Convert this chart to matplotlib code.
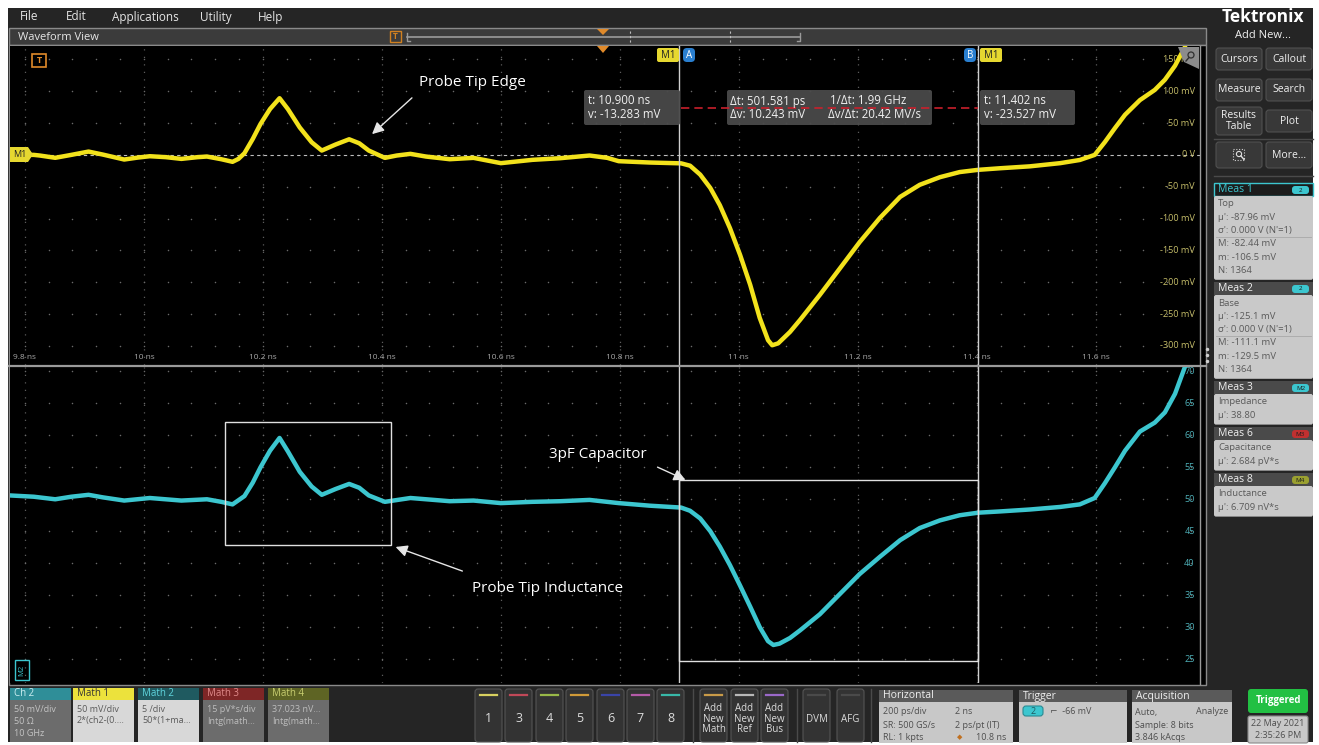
import numpy as np
import matplotlib.pyplot as plt
from matplotlib.patches import Rectangle, FancyBboxPatch, Polygon, Circle

W, H = 1319, 745
plt.rcParams['font.family'] = ['Open Sans', 'DejaVu Sans']

# Math 1 trace (ns, mV)
t_m1 = [9.775, 9.815, 9.825, 9.851, 9.878, 9.907, 9.931, 9.967, 9.990, 10.010,
        10.037, 10.063, 10.090, 10.106, 10.130, 10.149, 10.159, 10.169, 10.183, 10.196,
        10.212, 10.228, 10.242, 10.262, 10.282, 10.299, 10.322, 10.345, 10.362, 10.378,
        10.405, 10.425, 10.448, 10.474, 10.514, 10.554, 10.600, 10.653, 10.700, 10.749,
        10.779, 10.798, 10.850, 10.903, 10.918, 10.935, 10.952, 10.968, 10.985, 11.002,
        11.019, 11.035, 11.049, 11.056, 11.066, 11.086, 11.103, 11.136, 11.170, 11.203,
        11.237, 11.271, 11.304, 11.338, 11.371, 11.402, 11.439, 11.489, 11.540, 11.573,
        11.598, 11.615, 11.632, 11.649, 11.674, 11.699, 11.716, 11.733, 11.750]
v_m1 = [0.0, 0.0, -1.0, -4.6, 0.0, 5.2, 0.5, -7.3, -4.2, -2.1,
        -3.6, -6.3, -3.6, -2.6, -6.8, -10.9, -6.3, 2.6, 25.0, 48.5,
        72.0, 89.0, 72.0, 43.0, 19.8, 6.8, 16.2, 24.5, 18.2, 6.8,
        -4.7, -1.0, 1.6, -2.6, -6.8, -4.7, -13.0, -7.8, -5.2, -1.0,
        -4.7, -9.9, -12.0, -13.3, -17.0, -31.0, -52.0, -79.0, -115.0, -157.0,
        -204.0, -256.0, -291.0, -299.0, -296.0, -278.0, -259.0, -220.0, -178.0, -137.0,
        -99.0, -66.0, -47.0, -35.0, -27.0, -23.5, -21.0, -18.0, -13.0, -8.0,
        0.0, 20.0, 42.0, 63.0, 86.0, 102.0, 118.0, 140.0, 170.0]

# Math 2 trace (impedance, ohm)
t_m2 = [9.775, 9.815, 9.851, 9.878, 9.907, 9.931, 9.967, 10.010, 10.063, 10.106,
        10.130, 10.149, 10.169, 10.183, 10.196, 10.212, 10.228, 10.242, 10.262, 10.282,
        10.299, 10.322, 10.345, 10.362, 10.378, 10.405, 10.448, 10.514, 10.554, 10.600,
        10.653, 10.700, 10.749, 10.798, 10.850, 10.903, 10.918, 10.935, 10.952, 10.968,
        10.985, 11.002, 11.019, 11.035, 11.049, 11.058, 11.068, 11.086, 11.103, 11.136,
        11.170, 11.203, 11.237, 11.271, 11.304, 11.338, 11.371, 11.402, 11.439, 11.489,
        11.540, 11.573, 11.598, 11.615, 11.632, 11.649, 11.674, 11.699, 11.716, 11.733,
        11.750]
v_m2 = [50.6, 50.4, 50.0, 50.4, 50.7, 50.3, 49.8, 50.2, 49.8, 50.0,
        49.6, 49.2, 50.5, 52.6, 55.0, 57.6, 59.6, 57.5, 54.3, 52.0,
        50.7, 51.6, 52.4, 51.8, 50.6, 49.6, 50.2, 49.7, 49.8, 49.4,
        49.6, 49.7, 49.9, 49.4, 49.0, 48.7, 48.2, 47.0, 45.0, 42.6,
        39.7, 36.5, 33.2, 30.0, 27.8, 27.2, 27.4, 28.3, 29.5, 32.0,
        35.2, 38.3, 41.0, 43.6, 45.5, 46.7, 47.5, 47.9, 48.1, 48.4,
        48.8, 49.2, 50.2, 52.5, 55.0, 57.6, 60.6, 62.0, 63.6, 66.5,
        70.8]

cursor_a, cursor_b = 10.900, 11.402
time_ticks = [9.8, 10.0, 10.2, 10.4, 10.6, 10.8, 11.0, 11.2, 11.4, 11.6]
time_labels = ['9.8 ns', '10 ns', '10.2 ns', '10.4 ns', '10.6 ns', '10.8 ns',
               '11 ns', '11.2 ns', '11.4 ns', '11.6 ns']
m1_ticks = [150, 100, 50, 0, -50, -100, -150, -200, -250, -300]
m1_labels = ['150 mV', '100 mV', '50 mV', '0 V', '-50 mV', '-100 mV', '-150 mV',
             '-200 mV', '-250 mV', '-300 mV']
m2_ticks = [70, 65, 60, 55, 50, 45, 40, 35, 30, 25]

YEL = '#f2e21c'
CYA = '#3cc6cf'

fig = plt.figure(figsize=(W / 100, H / 100), dpi=100)
fig.patch.set_facecolor('white')


def px_axes(zorder, label):
    ax = fig.add_axes([0, 0, 1, 1], zorder=zorder, label=label)
    ax.set_xlim(0, W)
    ax.set_ylim(H, 0)
    ax.axis('off')
    ax.patch.set_alpha(0)
    return ax


def frac(x0, y0, x1, y1):
    return [x0 / W, 1 - y1 / H, (x1 - x0) / W, (y1 - y0) / H]


def box(ax, x, y, w, h, fc, ec='none', lw=0.8, r=0, **kw):
    if r:
        p = FancyBboxPatch((x, y), w, h, boxstyle=f'round,pad=0,rounding_size={r}',
                           fc=fc, ec=ec, lw=lw, **kw)
    else:
        p = Rectangle((x, y), w, h, fc=fc, ec=ec, lw=lw, **kw)
    ax.add_patch(p)


def txt(ax, x, y, s, size=7, color='white', ha='left', va='center', **kw):
    ax.text(x, y, s, fontsize=size, color=color, ha=ha, va=va, **kw)


bg = px_axes(0, 'bg')
ax_top = fig.add_axes(frac(10, 46, 1200, 365), zorder=1)
ax_bot = fig.add_axes(frac(10, 367, 1200, 683), zorder=1)
ov = px_axes(2, 'ov')

# ---- frame, menu and title bar ----
box(bg, 8, 8, 1305, 734, '#252525')
for x, s in [(20, 'File'), (66, 'Edit'), (112, 'Applications'), (200, 'Utility'), (258, 'Help')]:
    txt(bg, x, 17, s, 8.5, '#e6e6e6')
box(bg, 9, 28, 1197, 17, '#3b3b3b', ec='#8a8a8a', lw=1)
txt(bg, 18, 37, 'Waveform View', 8, '#e6e6e6')
box(bg, 9, 45, 1197, 640, 'black', ec='#8a8a8a', lw=1)
box(bg, 390, 31, 11, 11, 'none', ec='#d08020', lw=1)
txt(bg, 395.5, 36.5, 'T', 6, '#d08020', ha='center', weight='bold')
bg.plot([407, 800], [37, 37], color='#9a9a9a', lw=1.2)
bg.plot([407, 407, 410], [33, 41, 41], color='#9a9a9a', lw=1)
bg.plot([800, 800, 797], [33, 41, 41], color='#9a9a9a', lw=1)
bg.plot([630, 630], [31, 43], color='#bdbdbd', lw=0.8, ls=(0, (2, 2)))
bg.plot([730, 730], [31, 43], color='#bdbdbd', lw=0.8, ls=(0, (2, 2)))
bg.add_patch(Polygon([[597, 29], [609, 29], [603, 35]], fc='#e08a2a'))

# ---- waveform axes ----
minor_x = np.arange(9.6, 11.8, 0.04)
for ax in (ax_top, ax_bot):
    ax.set_facecolor('black')
    ax.set_xlim(9.775, 11.775)
    for s in ax.spines.values():
        s.set_visible(False)
    ax.set_xticks([])
    ax.set_yticks([])
    for t in time_ticks:
        ax.axvline(t, color='#5c5c5c', lw=0.9, ls=(0, (1, 5)), zorder=1)

ax_top.set_ylim(-330, 171)
ax_bot.set_ylim(21.25, 70.7)
for y in m1_ticks:
    ax_top.scatter(minor_x, [y] * len(minor_x), s=1.2, color='#6a6a6a', lw=0, zorder=1)
for y in m2_ticks:
    ax_bot.scatter(minor_x, [y] * len(minor_x), s=1.2, color='#6a6a6a', lw=0, zorder=1)
ax_top.axhline(0, color='#bdbdbd', lw=0.8, ls=(0, (3, 3)), zorder=2)

ax_top.plot(t_m1, v_m1, color=YEL, lw=3.2, solid_joinstyle='round', solid_capstyle='round', zorder=4)
ax_bot.plot(t_m2, v_m2, color=CYA, lw=3.2, solid_joinstyle='round', solid_capstyle='round', zorder=4)

for t, s in zip(time_ticks, time_labels):
    ax_top.text(t, -318, s, fontsize=6, color='#a8a8a8', ha='center', va='center', zorder=3)
for y, s in zip(m1_ticks, m1_labels):
    ax_top.text(11.766, y, s, fontsize=6.6, color='#c4bc68', ha='right', va='center', zorder=3)
for y in m2_ticks:
    ax_bot.text(11.766, y, str(y), fontsize=6.6, color='#4fb0b8', ha='right', va='center', zorder=3)

# cursors
for ax in (ax_top, ax_bot):
    ax.axvline(cursor_a, color='#cfcfcf', lw=1, zorder=5)
    ax.axvline(cursor_b, color='#cfcfcf', lw=1, zorder=5)

# annotation boxes on impedance plot
ax_bot.add_patch(Rectangle((10.136, 42.8), 10.415 - 10.136, 62.1 - 42.8,
                           fc='none', ec='#e0e0e0', lw=1, zorder=6))
ax_bot.add_patch(Rectangle((cursor_a, 24.7), cursor_b - cursor_a, 53.0 - 24.7,
                           fc='none', ec='#e0e0e0', lw=1, zorder=6))

# ---- overlay: separators, badges, readouts, callouts ----
ov.plot([9, 1206], [366, 366], color='#9a9a9a', lw=1.6)
ov.plot([1200, 1200], [46, 684], color='#9a9a9a', lw=1)
for yy in (349, 355, 361):
    ov.plot(1207, yy, 'o', ms=1.5, color='#cfcfcf')

ov.add_patch(Polygon([[597, 46], [609, 46], [603, 53]], fc='#e08a2a'))
box(ov, 32, 54, 14, 13, 'none', ec='#e08a2a', lw=1.2)
txt(ov, 39, 60.5, 'T', 6.5, '#e08a2a', ha='center', weight='bold')
ov.add_patch(Polygon([[10, 147], [28, 147], [33, 154.5], [28, 162], [10, 162]], fc='#e6d830'))
txt(ov, 19.5, 154.5, 'M1', 6.5, '#222222', ha='center')
box(ov, 15, 660, 14, 20, 'none', ec=CYA, lw=1)
txt(ov, 22, 670, 'M2', 5.5, CYA, ha='center', rotation=90)
# zoom tab in the upper right corner
ov.add_patch(Polygon([[1178, 47], [1199, 47], [1199, 69], [1184, 62]], fc='#8c8c8c'))
ov.add_patch(Circle((1191, 55), 3, fc='none', ec='#303030', lw=0.9))
ov.plot([1189, 1186], [57.5, 61], color='#303030', lw=1)

box(ov, 657, 48, 22, 14, '#e6d830', r=2)
txt(ov, 668, 55, 'M1', 7, '#222222', ha='center')
box(ov, 683, 48, 12, 14, '#2a7fd0', r=4)
txt(ov, 689, 55, 'A', 7, 'white', ha='center')
box(ov, 964, 48, 12, 14, '#2a7fd0', r=4)
txt(ov, 970, 55, 'B', 7, 'white', ha='center')
box(ov, 980, 48, 22, 14, '#e6d830', r=2)
txt(ov, 991, 55, 'M1', 7, '#222222', ha='center')

ov.plot([681, 978], [108, 108], color='#c8202c', lw=1.2, ls=(0, (5, 3)))
for x0, x1 in [(584, 680), (727, 932), (980, 1075)]:
    box(ov, x0, 90, x1 - x0, 35, '#4a4a4a', r=2, alpha=0.95)
txt(ov, 588, 101, 't: 10.900 ns', 8.3, '#f0f0f0')
txt(ov, 588, 115, 'v: -13.283 mV', 8.3, '#f0f0f0')
txt(ov, 730, 101, 'Δt: 501.581 ps', 8.3, '#f0f0f0')
txt(ov, 830, 101, '1/Δt: 1.99 GHz', 8.3, '#f0f0f0')
txt(ov, 730, 115, 'Δv: 10.243 mV', 8.3, '#f0f0f0')
txt(ov, 828, 115, 'Δv/Δt: 20.42 MV/s', 8.3, '#f0f0f0')
txt(ov, 984, 101, 't: 11.402 ns', 8.3, '#f0f0f0')
txt(ov, 984, 115, 'v: -23.527 mV', 8.3, '#f0f0f0')

arrow = dict(arrowstyle='-|>,head_length=0.7,head_width=0.35', color='#e6e6e6', lw=1)
ov.annotate('', xy=(370, 136), xytext=(414, 96), arrowprops=arrow)
txt(ov, 472, 82, 'Probe Tip Edge', 11, 'white', ha='center')
ov.annotate('', xy=(688, 481), xytext=(655, 466), arrowprops=arrow)
txt(ov, 598, 454, '3pF Capacitor', 11, 'white', ha='center')
ov.annotate('', xy=(393, 546), xytext=(465, 572), arrowprops=arrow)
txt(ov, 548, 588, 'Probe Tip Inductance', 11, 'white', ha='center')

# ---- right-hand panel ----
txt(bg, 1263, 17, 'Tektronix', 12.5, 'white', ha='center', weight='bold')
txt(bg, 1263, 35, 'Add New...', 8, '#f0f0f0', ha='center')
buttons = [(1216, 48, 22, 'Cursors'), (1266, 48, 22, 'Callout'),
           (1216, 79, 22, 'Measure'), (1266, 79, 22, 'Search'),
           (1216, 107, 28, 'Results\nTable'), (1266, 110, 22, 'Plot'),
           (1216, 142, 26, ''), (1266, 142, 26, 'More...')]
for x, y, h, s in buttons:
    box(bg, x, y, 46, h, '#383838', ec='#505050', r=3)
    txt(bg, x + 23, y + h / 2, s, 7.5, '#f0f0f0', ha='center', linespacing=0.95)
box(bg, 1233, 149, 11, 11, 'none', ec='#d0d0d0', lw=0.8, ls=(0, (1, 1.5)))
bg.add_patch(Circle((1239, 154), 2.6, fc='none', ec='#e0e0e0', lw=0.8))
bg.plot([1241, 1244], [156, 159.5], color='#e0e0e0', lw=1)
bg.plot([1214, 1313], [139, 139], color='#4a4a4a', lw=1)
bg.plot([1214, 1313], [176, 176], color='#4a4a4a', lw=1)

meas = [
    (183, 'Meas 1', '2', CYA, True,
     ['Top', "μ': -87.96 mV", "σ': 0.000 V (N'=1)", 'M: -82.44 mV', 'm: -106.5 mV', 'N: 1364']),
    (282, 'Meas 2', '2', CYA, False,
     ['Base', "μ': -125.1 mV", "σ': 0.000 V (N'=1)", 'M: -111.1 mV', 'm: -129.5 mV', 'N: 1364']),
    (381, 'Meas 3', 'M2', CYA, False, ['Impedance', "μ': 38.80"]),
    (427, 'Meas 6', 'M3', '#c03030', False, ['Capacitance', "μ': 2.684 pV*s"]),
    (473, 'Meas 8', 'M4', '#9aa030', False, ['Inductance', "μ': 6.709 nV*s"]),
]
for y, title, badge, bc, active, lines in meas:
    body_h = 13.3 * len(lines) + 4
    box(bg, 1214, y, 99, 13, '#1c1c1c' if active else '#4a4a4a',
        ec=CYA if active else 'none', lw=1)
    txt(bg, 1218, y + 6.5, title, 7.6, CYA if active else '#f0f0f0')
    box(bg, 1292, y + 3, 17, 8, bc, r=3)
    txt(bg, 1300.5, y + 7, badge, 4.5, '#1c1c1c', ha='center')
    box(bg, 1214, y + 13, 99, body_h, '#c9c9c9', r=2)
    for i, s in enumerate(lines):
        txt(bg, 1218, y + 21 + 13.3 * i, s, 6.8, '#5a5a5a')
    if len(lines) > 3:
        bg.plot([1216, 1311], [y + 21 + 13.3 * 2.5] * 2, color='#a8a8a8', lw=0.6)

# ---- bottom status bar ----
chans = [(10, 'Ch 2', '#2f8e98', '#cdeff2', '#6c6c6c', '#c4c4c4', ['50 mV/div', '50 Ω', '10 GHz']),
         (73, 'Math 1', '#ece23c', '#333333', '#d8d8d8', '#5a5a5a', ['50 mV/div', '2*(ch2-(0....']),
         (138, 'Math 2', '#1f5a60', '#5fd6de', '#d8d8d8', '#5a5a5a', ['5 /div', '50*(1+ma...']),
         (203, 'Math 3', '#7e2626', '#e08a8a', '#6c6c6c', '#bdbdbd', ['15 pV*s/div', 'Intg(math...']),
         (268, 'Math 4', '#5e6424', '#c8ce70', '#6c6c6c', '#bdbdbd', ['37.023 nV...', 'Intg(math...'])]
for x, name, hc, htc, bc, btc, lines in chans:
    box(bg, x, 688, 61, 12, hc)
    txt(bg, x + 4, 694, name, 7, htc)
    box(bg, x, 700, 61, 42, bc)
    for i, s in enumerate(lines):
        txt(bg, x + 4, 709 + 12 * i, s, 6.5, btc)

chan_btns = [(475, '1', '#d8d060'), (505, '3', '#c04858'), (536, '4', '#98b848'),
             (566, '5', '#d09a38'), (597, '6', '#3a44a8'), (627, '7', '#b45aa8'),
             (657, '8', '#38b8a8')]
for x, s, c in chan_btns:
    box(bg, x, 689, 27, 53, '#333333', ec='#555555', r=3)
    bg.plot([x + 5, x + 22], [695, 695], color=c, lw=1.6)
    txt(bg, x + 13.5, 719, s, 9, '#dcdcdc', ha='center')
for x, s, c in [(700, 'Add\nNew\nMath', '#c89a48'), (731, 'Add\nNew\nRef', '#b8b8b8'),
                (761, 'Add\nNew\nBus', '#9a68c8'), (803, 'DVM', '#4a4a4a'), (837, 'AFG', '#4a4a4a')]:
    box(bg, x, 689, 27, 53, '#333333', ec='#555555', r=3)
    bg.plot([x + 5, x + 22], [695, 695], color=c, lw=1.6)
    txt(bg, x + 13.5, 719, s, 7, '#dcdcdc', ha='center', linespacing=0.95)
bg.plot([693, 693], [689, 742], color='#4a4a4a', lw=1)
bg.plot([797, 797], [689, 742], color='#4a4a4a', lw=1)
bg.plot([871, 871], [689, 742], color='#4a4a4a', lw=1)

panels = [(879, 134, 'Horizontal'), (1019, 108, 'Trigger'), (1132, 100, 'Acquisition')]
for x, w, s in panels:
    box(bg, x, 690, w, 12, '#5a5a5a')
    txt(bg, x + 4, 696, s, 7.5, '#f0f0f0')
    box(bg, x, 702, w, 41, '#c8c8c8')
dark = '#4e4e4e'
for i, (a, b) in enumerate([('200 ps/div', '2 ns'), ('SR: 500 GS/s', '2 ps/pt (IT)'), ('RL: 1 kpts', '')]):
    txt(bg, 883, 712 + 13 * i, a, 6.5, dark)
    txt(bg, 955, 712 + 13 * i, b, 6.5, dark)
txt(bg, 957, 738, '◆', 5, '#c07020')
txt(bg, 976, 738, '10.8 ns', 6.5, dark)
box(bg, 1023, 706, 20, 10, CYA, ec='#2a8a92', r=3)
txt(bg, 1033, 711, '2', 6.5, '#1f5a60', ha='center')
txt(bg, 1050, 711, '⌐  -66 mV', 6.5, dark)
txt(bg, 1135, 712, 'Auto,', 6.5, dark)
txt(bg, 1228, 712, 'Analyze', 6.5, dark, ha='right')
txt(bg, 1135, 725, 'Sample: 8 bits', 6.5, dark)
txt(bg, 1135, 738, '3.846 kAcqs', 6.5, dark)

box(bg, 1248, 689, 60, 24, '#22c043', r=3)
txt(bg, 1278, 701, 'Triggered', 7, 'white', ha='center', weight='bold')
box(bg, 1248, 716, 60, 27, '#c8c8c8', ec='#8a8a8a', r=2)
txt(bg, 1278, 723, '22 May 2021', 6.5, dark, ha='center')
txt(bg, 1278, 736, '2:35:26 PM', 6.5, dark, ha='center')

fig.savefig('out.png', dpi=100, facecolor='white')
